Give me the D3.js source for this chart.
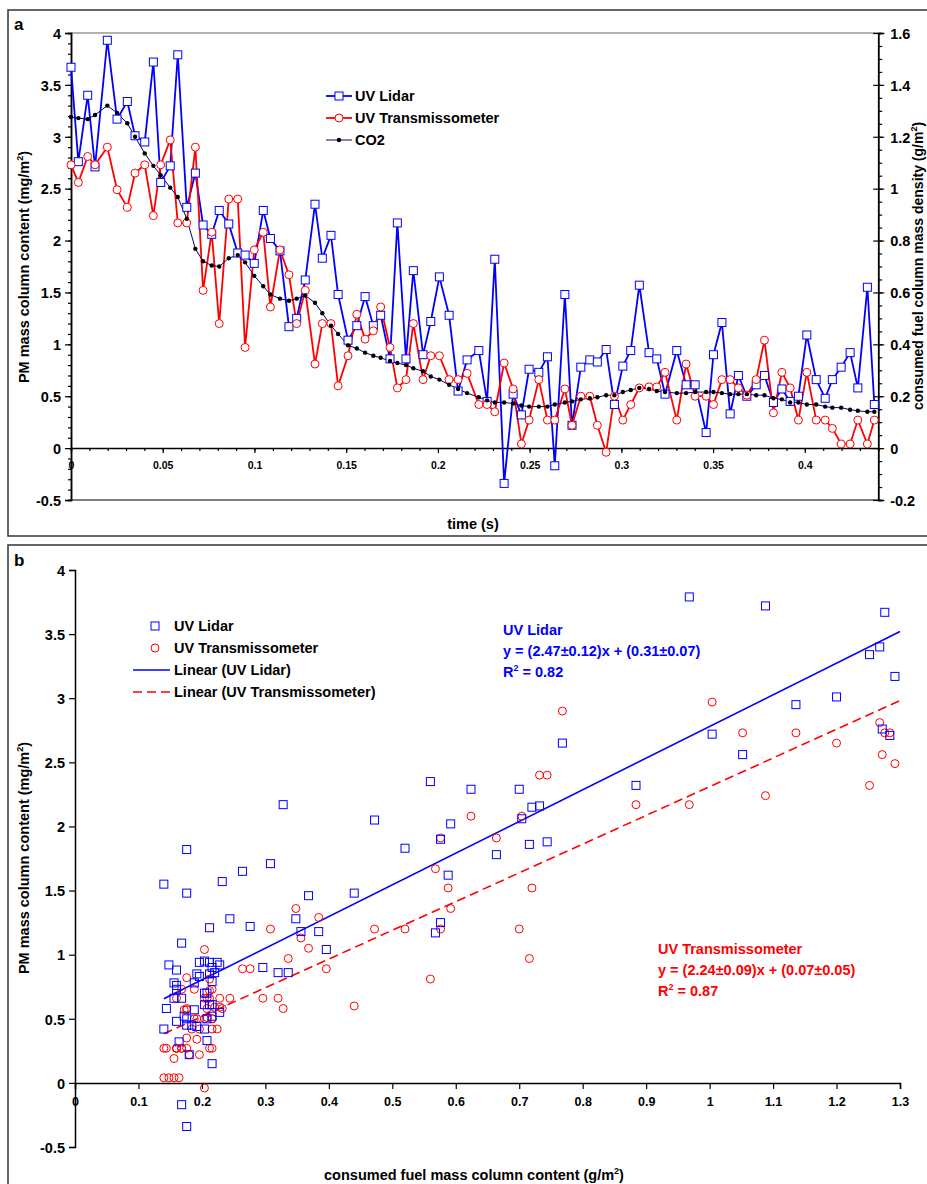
<!DOCTYPE html>
<html>
<head>
<meta charset="utf-8">
<script src="https://cdn.jsdelivr.net/npm/d3@7/dist/d3.min.js"></script>
<style>
  body { margin: 0; background: #fff; }
  svg { display: block; font-family: "Liberation Sans", Arial, sans-serif; font-weight: bold; }
</style>
</head>
<body>
<svg id="chart" width="927" height="1184"></svg>
<script>
// time axis of panel a (s)
const timeS = [0,0.0040,0.0091,0.0131,0.0198,0.0251,0.0307,0.0349,0.0402,0.0449,
  0.0489,0.0541,0.0582,0.0631,0.0678,0.0720,0.0767,0.0808,0.0860,0.0909,
  0.0949,0.0999,0.1048,0.1087,0.1139,0.1188,0.1230,0.1277,0.1330,0.1370,
  0.1417,0.1456,0.1510,0.1558,0.1603,0.1648,0.1688,0.1739,0.1779,0.1826,
  0.1866,0.1919,0.1961,0.2008,0.2061,0.2110,0.2159,0.2223,0.2268,0.2310,
  0.2361,0.2410,0.2455,0.2497,0.2550,0.2597,0.2637,0.2692,0.2731,0.2779,
  0.2828,0.2869,0.2917,0.2962,0.3008,0.3051,0.3098,0.3151,0.3193,0.3238,
  0.3302,0.3353,0.3402,0.3462,0.3502,0.3548,0.3593,0.3638,0.3684,0.3735,
  0.3780,0.3829,0.3875,0.3920,0.3965,0.4011,0.4062,0.4111,0.4150,0.4198,
  0.4247,0.4289,0.4341,0.4379];

// PM mass column content (mg/m2)
const lidarPM = [3.67,2.76,3.40,2.71,3.93,3.17,3.34,3.01,2.95,3.72,
  2.56,2.72,3.79,2.32,2.65,2.15,2.06,2.29,2.16,1.88,
  1.86,1.78,2.29,2.02,1.90,1.17,1.25,1.62,2.35,1.83,
  2.05,1.48,1.04,1.18,1.46,1.18,1.28,0.86,2.17,0.86,
  1.71,0.90,1.22,1.65,1.28,0.55,0.85,0.94,0.45,1.82,
  -0.34,0.52,0.32,0.76,0.73,0.88,-0.17,1.48,0.22,0.78,
  0.85,0.83,0.95,0.42,0.79,0.94,1.57,0.92,0.86,0.52,
  0.94,0.61,0.61,0.15,0.90,1.21,0.33,0.70,0.50,0.61,
  0.70,0.44,0.57,0.45,0.50,1.09,0.66,0.48,0.66,0.78,
  0.92,0.58,1.55,0.42];

const transPM = [2.73,2.56,2.81,2.73,2.90,2.49,2.32,2.65,2.73,2.24,
  2.73,2.97,2.17,2.17,2.90,1.52,2.08,1.20,2.40,2.40,
  0.97,1.91,2.08,1.36,1.91,1.67,1.20,1.52,0.81,1.20,
  1.20,0.60,0.89,1.29,1.05,1.13,1.36,0.97,0.58,0.66,
  1.20,0.66,0.89,0.89,0.66,0.66,0.72,0.42,0.42,0.35,
  0.82,0.57,0.04,0.27,0.66,0.27,0.27,0.57,0.22,0.50,
  0.50,0.22,-0.04,0.50,0.27,0.42,0.58,0.59,0.59,0.73,
  0.27,0.81,0.50,0.50,0.42,0.66,0.66,0.58,0.51,0.66,
  1.04,0.34,0.73,0.58,0.27,0.73,0.27,0.27,0.19,0.04,
  0.04,0.27,0.04,0.27];

// consumed fuel column mass density from CO2 (g/m2)
const co2Fuel = [1.276,1.272,1.268,1.284,1.320,1.292,1.252,1.200,1.136,1.088,
  1.052,1.004,0.968,0.884,0.768,0.720,0.704,0.700,0.732,0.744,
  0.716,0.664,0.624,0.592,0.576,0.568,0.576,0.588,0.560,0.520,
  0.472,0.440,0.396,0.384,0.368,0.356,0.348,0.336,0.328,0.320,
  0.308,0.296,0.276,0.264,0.244,0.228,0.212,0.196,0.184,0.176,
  0.176,0.172,0.164,0.160,0.160,0.160,0.168,0.176,0.180,0.188,
  0.192,0.196,0.204,0.204,0.216,0.224,0.232,0.228,0.220,0.216,
  0.212,0.212,0.216,0.216,0.216,0.212,0.208,0.208,0.208,0.204,
  0.204,0.192,0.188,0.176,0.176,0.168,0.168,0.160,0.156,0.156,
  0.148,0.144,0.140,0.140];

// linear fits shown in panel b: [slope, intercept]
const lidarFit = [2.47, 0.31];
const transFit = [2.24, 0.07];

const FONT = 14.5;
const BLUE = "#0000ff", RED = "#ff0000", NAVY = "#000080";
const plain = d => String(+(+d).toFixed(2));   // keeps the hyphen-minus, like the original

const svg = d3.select("#chart");

// ---------- panel a ----------
const a = { left: 71, right: 878.2, top: 33, bottom: 500 };
const xA = d3.scaleLinear().domain([0, 0.44]).range([a.left, a.right]);
const yA = d3.scaleLinear().domain([-0.5, 4]).range([a.bottom, a.top]);
const yA2 = d3.scaleLinear().domain([-0.2, 1.6]).range([a.bottom, a.top]);

svg.append("rect").attr("x", 8).attr("y", 10).attr("width", 940).attr("height", 526)
  .attr("fill", "none").attr("stroke", "#333").attr("stroke-width", 1.5);
svg.append("text").attr("x", 14).attr("y", 30).attr("font-size", 17).text("a");

svg.append("line").attr("x1", a.left).attr("x2", a.right).attr("y1", a.top).attr("y2", a.top)
  .attr("stroke", "#666").attr("stroke-width", 1);
svg.append("line").attr("x1", a.left).attr("x2", a.right).attr("y1", a.bottom).attr("y2", a.bottom)
  .attr("stroke", "#000").attr("stroke-width", 1.2);

function styleAxis(g, size) {
  g.select(".domain").attr("stroke", "#000").attr("stroke-width", 1.5);
  g.selectAll(".tick line").attr("stroke", "#000").attr("stroke-width", 1.2);
  g.selectAll("text").attr("fill", "#000").attr("font-size", size)
    .attr("font-family", "'Liberation Sans', Arial, sans-serif").attr("font-weight", "bold");
}

// left axis
svg.append("g").attr("transform", `translate(${a.left},0)`)
  .call(d3.axisLeft(yA).tickValues(d3.range(-5, 41, 1).map(d => d / 10)).tickSize(3).tickFormat(""))
  .call(g => styleAxis(g, FONT));
svg.append("g").attr("transform", `translate(${a.left},0)`)
  .call(d3.axisLeft(yA).tickValues(d3.range(-1, 9, 1).map(d => d / 2)).tickSize(6).tickPadding(4)
    .tickFormat(plain))
  .call(g => styleAxis(g, FONT))
  .call(g => g.selectAll("text").attr("dy", "0.36em"));

// right axis
svg.append("g").attr("transform", `translate(${a.right},0)`)
  .call(d3.axisRight(yA2).tickValues(d3.range(-4, 33, 1).map(d => d / 20)).tickSize(4).tickFormat(""))
  .call(g => styleAxis(g, FONT));
svg.append("g").attr("transform", `translate(${a.right},0)`)
  .call(d3.axisRight(yA2).tickValues(d3.range(-1, 9, 1).map(d => d / 5)).tickSize(6).tickPadding(6)
    .tickFormat(plain))
  .call(g => styleAxis(g, FONT))
  .call(g => g.selectAll(".tick line").attr("x1", -5))
  .call(g => g.selectAll("text").attr("dy", "0.36em"));

// x axis at y = 0
svg.append("g").attr("transform", `translate(0,${yA(0)})`)
  .call(d3.axisBottom(xA).tickValues(d3.range(0, 45, 1).map(d => d / 100)).tickSize(3).tickFormat(""))
  .call(g => styleAxis(g, 10.5));
svg.append("g").attr("transform", `translate(0,${yA(0)})`)
  .call(d3.axisBottom(xA).tickValues(d3.range(0, 9, 1).map(d => d / 20)).tickSize(5).tickPadding(8)
    .tickFormat(plain))
  .call(g => styleAxis(g, 10.5))
  .call(g => g.select(".domain").remove());

// axis titles
svg.append("text").attr("transform", `translate(29,267) rotate(-90)`)
  .attr("text-anchor", "middle").attr("font-size", FONT)
  .html('PM mass column content (mg/m<tspan dy="-6" font-size="9">2</tspan><tspan dy="6">)</tspan>');
svg.append("text").attr("transform", `translate(923,266) rotate(-90)`)
  .attr("text-anchor", "middle").attr("font-size", 14)
  .html('consumed fuel column mass density (g/m<tspan dy="-6" font-size="9">2</tspan><tspan dy="6">)</tspan>');
svg.append("text").attr("x", 473).attr("y", 529).attr("text-anchor", "middle")
  .attr("font-size", FONT).text("time (s)");

const seriesA = timeS.map((t, i) => ({ t, lidar: lidarPM[i], trans: transPM[i], co2: co2Fuel[i] }));

const lineLidar = d3.line().x(d => xA(d.t)).y(d => yA(d.lidar));
const lineTrans = d3.line().x(d => xA(d.t)).y(d => yA(d.trans));
const lineCO2 = d3.line().x(d => xA(d.t)).y(d => yA2(d.co2));

const plotA = svg.append("g");
plotA.append("path").datum(seriesA).attr("d", lineLidar)
  .attr("fill", "none").attr("stroke", BLUE).attr("stroke-width", 1.8);
plotA.append("path").datum(seriesA).attr("d", lineTrans)
  .attr("fill", "none").attr("stroke", RED).attr("stroke-width", 1.8);
plotA.append("path").datum(seriesA).attr("d", lineCO2)
  .attr("fill", "none").attr("stroke", NAVY).attr("stroke-width", 1);

plotA.selectAll(".sqA").data(seriesA).join("rect")
  .attr("x", d => xA(d.t) - 4).attr("y", d => yA(d.lidar) - 4)
  .attr("width", 8).attr("height", 8)
  .attr("fill", "#fff").attr("stroke", BLUE).attr("stroke-width", 1);
plotA.selectAll(".ciA").data(seriesA).join("circle")
  .attr("cx", d => xA(d.t)).attr("cy", d => yA(d.trans)).attr("r", 4)
  .attr("fill", "#fff").attr("stroke", RED).attr("stroke-width", 1);
plotA.selectAll(".dotA").data(seriesA).join("circle")
  .attr("cx", d => xA(d.t)).attr("cy", d => yA2(d.co2)).attr("r", 2.2)
  .attr("fill", "#000");

// legend a
const legA = svg.append("g").attr("transform", "translate(326,96)");
const legItemsA = ["UV Lidar", "UV Transmissometer", "CO2"];
legItemsA.forEach((name, i) => {
  const g = legA.append("g").attr("transform", `translate(0,${i * 22})`);
  g.append("line").attr("x1", 0).attr("x2", 26).attr("stroke", [BLUE, RED, NAVY][i])
    .attr("stroke-width", i < 2 ? 1.8 : 1);
  if (i === 0) g.append("rect").attr("x", 9).attr("y", -4).attr("width", 8).attr("height", 8)
    .attr("fill", "#fff").attr("stroke", BLUE);
  if (i === 1) g.append("circle").attr("cx", 13).attr("r", 4).attr("fill", "#fff").attr("stroke", RED);
  if (i === 2) g.append("circle").attr("cx", 13).attr("r", 2.2).attr("fill", "#000");
  g.append("text").attr("x", 29).attr("y", 5).attr("font-size", FONT).text(name);
});

// ---------- panel b ----------
const b = { left: 75, right: 900, top: 570, bottom: 1147 };
const xB = d3.scaleLinear().domain([0, 1.3]).range([b.left, b.right]);
const yB = d3.scaleLinear().domain([-0.5, 4]).range([b.bottom, b.top]);

svg.append("rect").attr("x", 8).attr("y", 545).attr("width", 940).attr("height", 660)
  .attr("fill", "none").attr("stroke", "#333").attr("stroke-width", 1.5);
svg.append("text").attr("x", 14).attr("y", 566).attr("font-size", 17).text("b");

svg.append("g").attr("transform", `translate(${b.left},0)`)
  .call(d3.axisLeft(yB).tickValues(d3.range(-1, 9, 1).map(d => d / 2)).tickSize(6).tickPadding(4)
    .tickFormat(plain))
  .call(g => styleAxis(g, FONT))
  .call(g => g.selectAll("text").attr("dy", "0.36em"));
svg.append("g").attr("transform", `translate(0,${yB(0)})`)
  .call(d3.axisBottom(xB).tickValues(d3.range(0, 14, 1).map(d => d / 10)).tickSize(6).tickPadding(8)
    .tickFormat(plain))
  .call(g => styleAxis(g, 12.5));

svg.append("text").attr("transform", `translate(29,858) rotate(-90)`)
  .attr("text-anchor", "middle").attr("font-size", FONT)
  .html('PM mass column content (mg/m<tspan dy="-6" font-size="9">2</tspan><tspan dy="6">)</tspan>');
svg.append("text").attr("x", 474).attr("y", 1180).attr("text-anchor", "middle").attr("font-size", FONT)
  .html('consumed fuel mass column content (g/m<tspan dy="-6" font-size="9">2</tspan><tspan dy="6">)</tspan>');

const pairs = seriesA.filter(d => d.co2 <= 1.3);
const xFit = [d3.min(co2Fuel), 1.3];

svg.append("path").datum(xFit)
  .attr("d", d3.line().x(d => xB(d)).y(d => yB(lidarFit[0] * d + lidarFit[1])))
  .attr("stroke", BLUE).attr("stroke-width", 1.6).attr("fill", "none");
svg.append("path").datum(xFit)
  .attr("d", d3.line().x(d => xB(d)).y(d => yB(transFit[0] * d + transFit[1])))
  .attr("stroke", RED).attr("stroke-width", 1.6).attr("stroke-dasharray", "9,5").attr("fill", "none");

svg.append("g").selectAll("circle").data(pairs).join("circle")
  .attr("cx", d => xB(d.co2)).attr("cy", d => yB(d.trans)).attr("r", 4)
  .attr("fill", "none").attr("stroke", RED).attr("stroke-width", 1);
svg.append("g").selectAll("rect").data(pairs).join("rect")
  .attr("x", d => xB(d.co2) - 4).attr("y", d => yB(d.lidar) - 4).attr("width", 8).attr("height", 8)
  .attr("fill", "none").attr("stroke", BLUE).attr("stroke-width", 1);

// legend b
const legB = svg.append("g").attr("transform", "translate(133,626)");
const legItemsB = ["UV Lidar", "UV Transmissometer", "Linear (UV Lidar)", "Linear (UV Transmissometer)"];
legItemsB.forEach((name, i) => {
  const g = legB.append("g").attr("transform", `translate(0,${i * 22})`);
  if (i === 0) g.append("rect").attr("x", 18).attr("y", -4).attr("width", 8).attr("height", 8)
    .attr("fill", "none").attr("stroke", BLUE);
  if (i === 1) g.append("circle").attr("cx", 22).attr("r", 4).attr("fill", "none").attr("stroke", RED);
  if (i === 2) g.append("line").attr("x1", 0).attr("x2", 37).attr("stroke", BLUE).attr("stroke-width", 1.6);
  if (i === 3) g.append("line").attr("x1", 0).attr("x2", 37).attr("stroke", RED).attr("stroke-width", 1.6)
    .attr("stroke-dasharray", "9,5");
  g.append("text").attr("x", 41).attr("y", 5).attr("font-size", FONT).text(name);
});

// fit annotations
function fitNote(x, y, color, title, fit, errs, r2) {
  const g = svg.append("g").attr("fill", color).attr("font-size", FONT);
  g.append("text").attr("x", x).attr("y", y).text(title);
  g.append("text").attr("x", x).attr("y", y + 21)
    .text(`y = (${fit[0].toFixed(2)}±${errs[0].toFixed(2)})x + (${fit[1].toFixed(2)}±${errs[1].toFixed(2)})`);
  g.append("text").attr("x", x).attr("y", y + 42)
    .html(`R<tspan dy="-6" font-size="9">2</tspan><tspan dy="6"> = ${r2.toFixed(2)}</tspan>`);
}
fitNote(503, 635, BLUE, "UV Lidar", lidarFit, [0.12, 0.07], 0.82);
fitNote(658, 954, RED, "UV Transmissometer", transFit, [0.09, 0.05], 0.87);
</script>
</body>
</html>
